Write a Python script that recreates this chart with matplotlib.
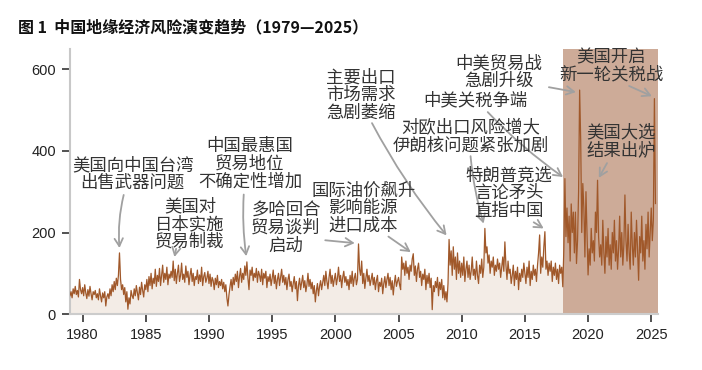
import numpy as np
import matplotlib
matplotlib.use("Agg")
import matplotlib.pyplot as plt

plt.rcParams['font.family'] = ['Noto Sans CJK SC', 'DejaVu Sans']

# monthly risk index (Jan..Dec per year)
idx_1979_1988 = [
    [45, 55, 40, 62, 50, 68, 48, 58, 42, 85, 60, 50],
    [65, 45, 72, 52, 38, 60, 44, 68, 50, 35, 55, 48],
    [58, 40, 50, 35, 62, 45, 30, 52, 40, 55, 20, 42],
    [50, 38, 62, 45, 72, 55, 80, 60, 88, 70, 95, 150],
    [85, 60, 72, 48, 65, 30, 55, 12, 40, 25, 58, 45],
    [38, 62, 45, 70, 52, 35, 66, 48, 78, 58, 42, 72],
    [60, 85, 55, 92, 70, 100, 62, 88, 75, 110, 68, 95],
    [80, 112, 70, 95, 120, 78, 100, 85, 115, 72, 98, 88],
    [105, 90, 130, 82, 110, 75, 100, 120, 80, 95, 125, 85],
    [98, 78, 118, 90, 105, 72, 95, 112, 80, 100, 70, 92],
]
idx_1989_1998 = [
    [85, 108, 75, 96, 80, 115, 70, 92, 102, 78, 88, 105],
    [75, 98, 68, 90, 82, 60, 88, 72, 95, 65, 80, 70],
    [85, 62, 78, 55, 72, 40, 20, 48, 68, 85, 58, 90],
    [72, 98, 80, 105, 65, 92, 112, 78, 100, 85, 118, 95],
    [128, 88, 60, 108, 95, 115, 82, 100, 90, 112, 78, 105],
    [95, 80, 110, 72, 100, 88, 105, 65, 92, 80, 98, 70],
    [88, 108, 75, 95, 62, 85, 100, 70, 90, 110, 78, 95],
    [72, 90, 60, 85, 98, 68, 80, 55, 75, 92, 62, 80],
    [33, 70, 88, 60, 78, 95, 65, 82, 55, 72, 100, 68],
    [85, 62, 78, 50, 70, 30, 58, 75, 45, 68, 82, 60],
]
idx_1999_2008 = [
    [78, 95, 70, 105, 80, 62, 90, 110, 75, 95, 68, 85],
    [100, 72, 88, 115, 80, 95, 65, 90, 105, 78, 92, 70],
    [85, 60, 95, 75, 105, 68, 88, 100, 72, 85, 172, 110],
    [95, 130, 75, 100, 63, 88, 110, 80, 95, 70, 85, 100],
    [72, 90, 60, 82, 95, 55, 78, 68, 88, 50, 75, 92],
    [65, 85, 100, 70, 90, 60, 82, 47, 75, 95, 68, 80],
    [90, 72, 60, 140, 110, 125, 95, 130, 100, 115, 85, 120],
    [105, 135, 148, 95, 118, 80, 110, 125, 90, 105, 70, 98],
    [85, 110, 60, 95, 75, 100, 65, 88, 11, 70, 55, 80],
    [65, 90, 45, 78, 60, 85, 40, 70, 35, 55, 30, 75],
]
idx_2009_2018 = [
    [183, 120, 155, 95, 165, 110, 140, 85, 150, 100, 130, 90],
    [125, 95, 140, 80, 110, 130, 90, 120, 85, 105, 140, 95],
    [110, 85, 130, 95, 75, 120, 100, 135, 90, 115, 210, 150],
    [165, 125, 145, 100, 130, 115, 140, 95, 120, 105, 135, 110],
    [125, 90, 115, 140, 105, 177, 120, 85, 130, 100, 110, 75],
    [95, 120, 70, 105, 85, 115, 60, 100, 80, 110, 90, 125],
    [100, 75, 115, 90, 130, 70, 105, 85, 120, 95, 110, 80],
    [120, 150, 194, 100, 140, 115, 165, 202, 110, 130, 95, 125],
    [105, 130, 80, 115, 95, 125, 85, 110, 75, 120, 100, 115],
    [67, 160, 332, 190, 260, 175, 240, 130, 270, 200, 250, 150],
]
idx_2019_2025 = [
    [250, 124, 180, 300, 549, 426, 200, 320, 260, 140, 300, 200],
    [96, 160, 120, 210, 150, 180, 130, 250, 200, 328, 190, 140],
    [170, 120, 230, 150, 100, 190, 140, 210, 120, 170, 110, 200],
    [150, 230, 130, 180, 110, 160, 240, 140, 200, 120, 170, 292],
    [180, 130, 220, 150, 110, 250, 170, 120, 200, 140, 230, 160],
    [83, 190, 150, 240, 130, 180, 110, 220, 160, 250, 140, 200],
    [260, 180, 230, 528, 271],
]
start_year = 1979
shade_start, shade_end = 2018.0, 2025.5
x_ticks = [1980, 1985, 1990, 1995, 2000, 2005, 2010, 2015, 2020, 2025]
y_ticks = [0, 200, 400, 600]

# (label, peak year, peak month, text x, text y, arrow start x, start y, dx, dy, rad)
events = [
    ("美国向中国台湾\n出售武器问题", 1982, 12, 1983.97, 343, 1983.25, 292, 0.0, 12, 0.08),
    ("美国对\n日本实施\n贸易制裁", 1987, 3, 1988.49, 221, 1987.4, 160, 0.1, 10, 0.0),
    ("中国最惠国\n贸易地位\n不确定性增加", 1993, 1, 1993.25, 368, 1992.75, 293, -0.05, 14, 0.05),
    ("多哈回合\n贸易谈判\n启动", 2001, 11, 1996.1, 211, 1999.2, 181, -0.3, 2, 0.0),
    ("国际油价飙升\n影响能源\n进口成本", 2006, 3, 2002.2, 260, 2004.2, 190, -0.2, 4, 0.0),
    ("主要出口\n市场需求\n急剧萎缩", 2009, 1, 2002.0, 537, 2002.9, 468, -0.2, 10, 0.05),
    ("对欧出口风险增大\n伊朗核问题紧张加剧", 2011, 11, 2010.7, 434, 2010.7, 387, -0.1, 12, 0.05),
    ("特朗普竞选\n言论矛头\n直指中国", 2016, 8, 2013.73, 297, 2015.7, 225, -0.1, 8, 0.0),
    ("中美关税争端", 2018, 3, 2011.1, 524, 2012.06, 495, -0.15, 4, 0.05),
    ("中美贸易战\n急剧升级", 2019, 5, 2012.94, 593, 2016.9, 556, -0.3, -5, 0.0),
    ("美国开启\n新一轮关税战", 2025, 4, 2021.83, 608, 2023.25, 559, -0.2, 6, 0.0),
    ("美国大选\n结果出炉", 2020, 10, 2022.6, 424, 2021.5, 370, 0.1, 6, 0.0),
]


def main():
    values = np.array([v for block in (idx_1979_1988, idx_1989_1998, idx_1999_2008,
                                       idx_2009_2018, idx_2019_2025)
                       for yr in block for v in yr], dtype=float)
    t = start_year + np.arange(len(values)) / 12.0

    fig = plt.figure(figsize=(7.02, 3.70), dpi=100)
    ax = fig.add_axes([0.0997, 0.151, 0.837, 0.717])

    ax.fill_between(t, 0, values, color='#f3ece6', lw=0, zorder=1)
    ax.axvspan(shade_start, shade_end, color='#cdab98', lw=0, zorder=2)
    ax.plot(t, values, color='#a0582a', lw=0.9, zorder=3)

    ax.set_xlim(1979.0, 2025.5)
    ax.set_ylim(0, 650)
    ax.set_xticks(x_ticks)
    ax.set_yticks(y_ticks)
    for lab in ax.get_xticklabels() + ax.get_yticklabels():
        lab.set_family(['Liberation Sans', 'DejaVu Sans'])
        lab.set_fontsize(10.5)
        lab.set_color('#222222')
    ax.tick_params(direction='out', length=6, width=1.2, color='#333333', pad=4)

    for side in ('top', 'right'):
        ax.spines[side].set_visible(False)
    ax.spines['left'].set_color('#c8c8c8')
    ax.spines['left'].set_linewidth(1.5)
    ax.spines['bottom'].set_color('#cccccc')
    ax.spines['bottom'].set_linewidth(1.5)

    for label, py, pm, tx, ty, sx, sy, dx, dy, rad in events:
        i = (py - start_year) * 12 + (pm - 1)
        ax.text(tx, ty, label, ha='center', va='center', fontsize=12.5,
                color='#333333', linespacing=0.97, zorder=5)
        ax.annotate('', xy=(t[i] + dx, values[i] + dy), xytext=(sx, sy),
                    arrowprops=dict(arrowstyle='->,head_width=0.3,head_length=0.55',
                                    color='#a0a0a0', lw=1.3,
                                    connectionstyle=f'arc3,rad={rad}',
                                    shrinkA=0, shrinkB=0),
                    zorder=4)

    fig.text(0.026, 0.927, "图 1  中国地缘经济风险演变趋势（1979—2025）",
             fontsize=11.5, fontweight='bold', color='#111111', va='center', ha='left')

    fig.savefig('out.png', dpi=100)


if __name__ == "__main__":
    main()
